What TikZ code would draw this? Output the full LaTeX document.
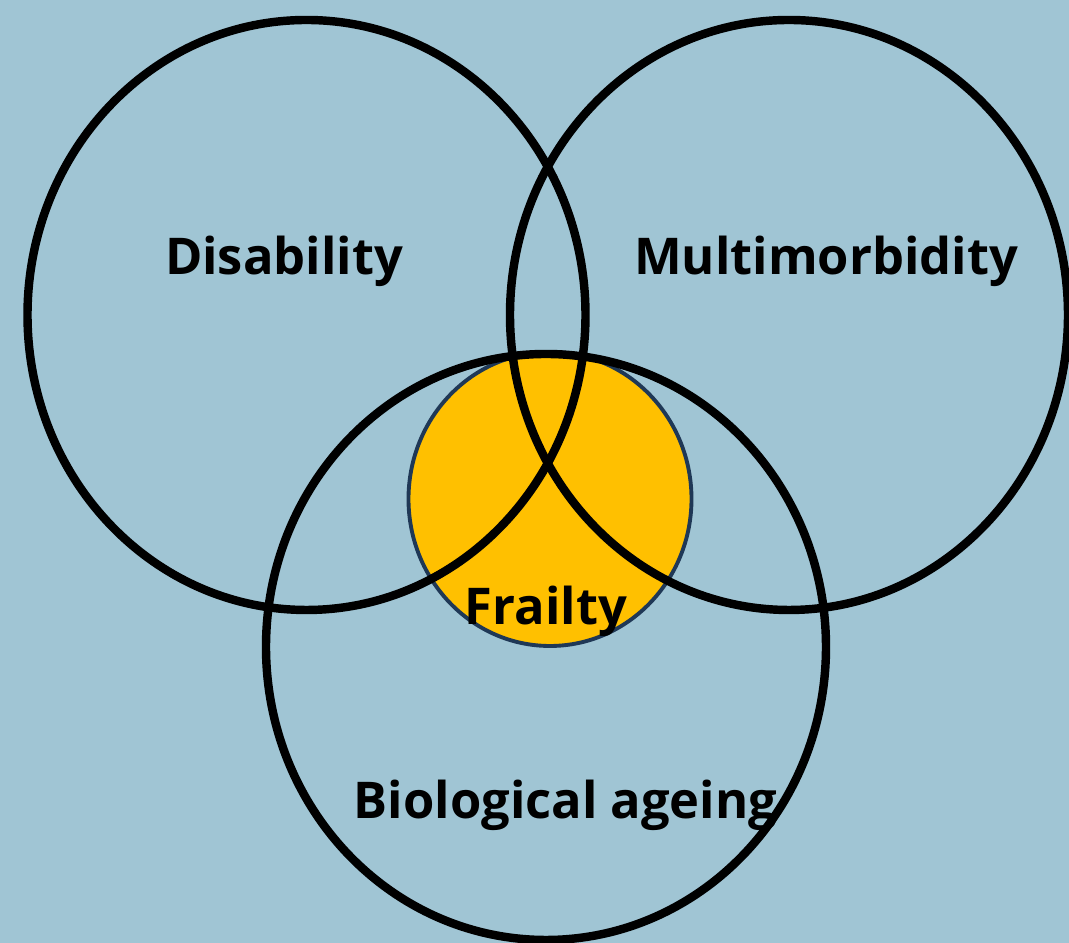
\documentclass[tikz,border=0pt]{standalone}
\usepackage{fontspec}
\setmainfont{Open Sans}
\definecolor{skyback}{RGB}{160,197,212}
\definecolor{frailgold}{RGB}{255,192,0}
\definecolor{frailedge}{RGB}{31,56,86}
\tikzset{
  setring/.style={draw=black, line width=2.4pt},
  setlabel/.style={font=\fontsize{14.4}{17}\selectfont\bfseries, anchor=base, inner sep=0pt}
}
\begin{document}
\begin{tikzpicture}[x=0.01cm,y=0.01cm]
	%BACKGROUND
	\fill[skyback] (0,0) rectangle (1069,943);
	\useasboundingbox (0,0) rectangle (1069,943);
	%FRAILTY
	\draw[fill=frailgold, draw=frailedge, line width=1.1pt] (550,444) ellipse [x radius=141.5, y radius=147];
	%SETS
	\draw[setring] (306.5,628) ellipse [x radius=279, y radius=295];
	\draw[setring] (789,628) ellipse [x radius=279, y radius=295];
	\draw[setring] (546,296) ellipse [x radius=280, y radius=293];
	%LABELS
	\node[setlabel] (disability) at (284,668) {Disability};
	\node[setlabel] (multimorbidity) at (826,668) {Multimorbidity};
	\node[setlabel] (frailty) at (546,318) {Frailty};
	\node[setlabel] (ageing) at (565.5,124) {Biological ageing};
\end{tikzpicture}
\end{document}
